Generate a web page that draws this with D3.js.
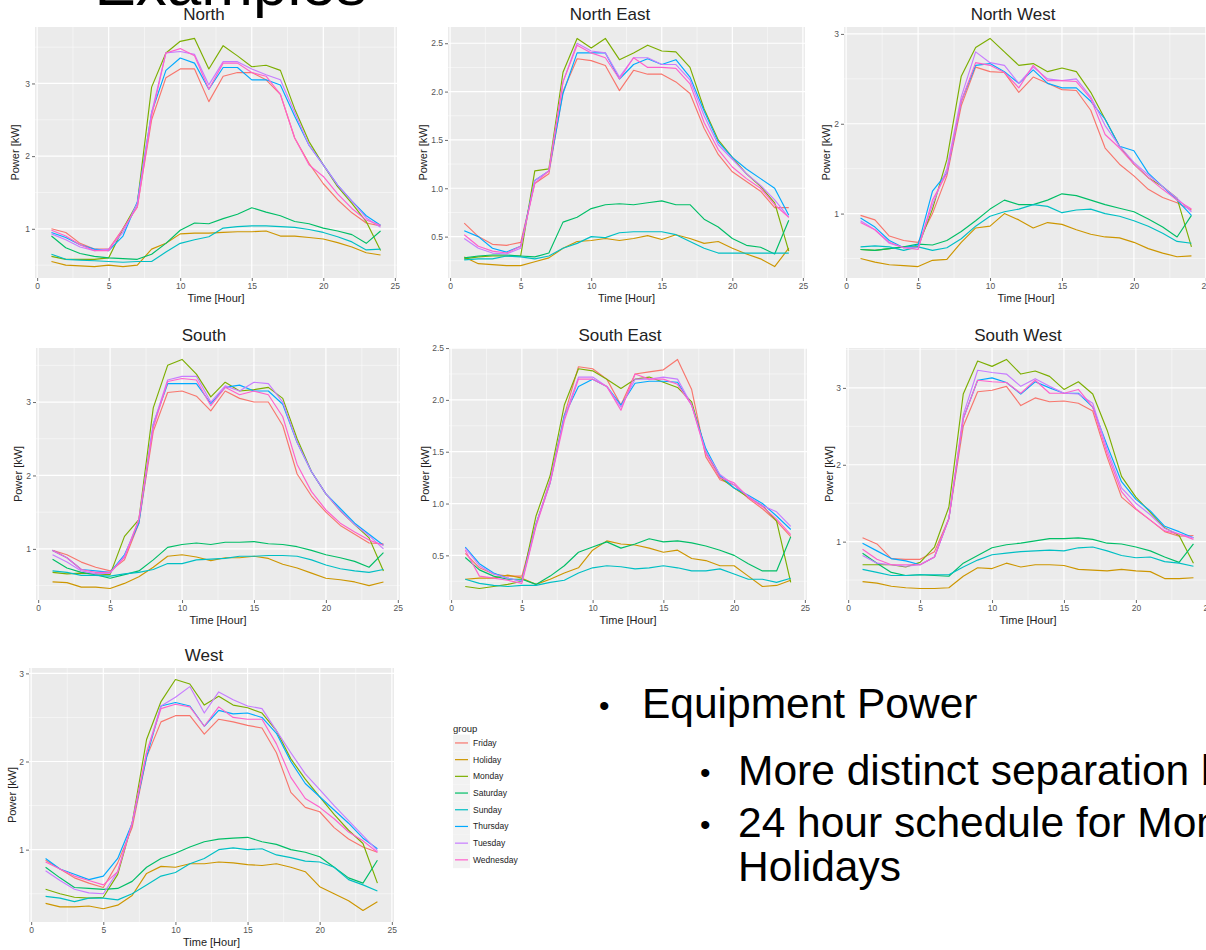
<!DOCTYPE html>
<html><head><meta charset="utf-8">
<script src="https://cdn.jsdelivr.net/npm/d3@7"></script>
<style>
body{margin:0;background:#fff;}
svg{display:block;font-family:"Liberation Sans",Arial,Helvetica,sans-serif;}
</style>
</head><body>
<svg id="c" width="1206" height="950"></svg>
<script>
// ---------------- DATA ----------------
const hours = [1,2,3,4,5,6,7,8,9,10,11,12,13,14,15,16,17,18,19,20,21,22,23,24];
const groups = ["Friday","Holiday","Monday","Saturday","Sunday","Thursday","Tuesday","Wednesday"];
const groupColors = ["#F8766D","#CD9600","#7CAE00","#00BE67","#00BFC4","#00A9FF","#C77CFF","#FF61CC"];
const facetNames = ["North","North East","North West","South","South East","South West","West"];
const xTicks = [0,5,10,15,20,25];
const yTicksNorth = [1,2,3];
const yTicksNorthEast = [0.5,1.0,1.5,2.0,2.5];
const yTicksNorthWest = [1,2,3];
const yTicksSouth = [1,2,3];
const yTicksSouthEast = [0.5,1.0,1.5,2.0,2.5];
const yTicksSouthWest = [1,2,3];
const yTicksWest = [1,2,3];

// each facet: series in the order of `groups`
const north = [
 [1.0,0.95,0.8,0.72,0.72,1.0,1.3,2.5,3.08,3.2,3.2,2.75,3.1,3.15,3.15,3.05,2.85,2.25,1.9,1.62,1.4,1.22,1.08,1.04],
 [0.55,0.5,0.49,0.48,0.5,0.48,0.5,0.72,0.8,0.93,0.94,0.94,0.95,0.96,0.96,0.97,0.9,0.9,0.88,0.86,0.81,0.75,0.67,0.64],
 [0.62,0.58,0.58,0.58,0.6,1.0,1.35,2.95,3.42,3.58,3.62,3.2,3.52,3.38,3.23,3.25,3.18,2.65,2.2,1.88,1.58,1.35,1.1,0.7],
 [0.9,0.74,0.66,0.62,0.6,0.59,0.58,0.65,0.8,0.98,1.08,1.07,1.14,1.2,1.29,1.23,1.18,1.1,1.07,1.01,0.97,0.92,0.8,0.97],
 [0.65,0.58,0.57,0.56,0.55,0.54,0.55,0.55,0.68,0.8,0.85,0.89,1.01,1.03,1.04,1.04,1.03,1.02,0.99,0.95,0.89,0.82,0.71,0.72],
 [0.95,0.88,0.78,0.72,0.7,0.9,1.37,2.6,3.18,3.35,3.28,2.92,3.22,3.22,3.05,3.05,2.98,2.55,2.15,1.88,1.6,1.38,1.18,1.05],
 [0.93,0.85,0.75,0.7,0.72,0.95,1.35,2.6,3.42,3.44,3.4,2.98,3.3,3.3,3.2,3.12,3.05,2.6,2.15,1.88,1.6,1.38,1.15,1.02],
 [0.98,0.9,0.78,0.7,0.7,1.0,1.3,2.55,3.42,3.48,3.38,2.92,3.28,3.28,3.15,3.1,2.85,2.25,1.88,1.72,1.48,1.28,1.12,1.05]
];
const northEast = [
 [0.64,0.5,0.42,0.41,0.44,1.05,1.15,2.0,2.34,2.32,2.27,2.01,2.22,2.18,2.18,2.1,1.98,1.62,1.35,1.17,1.07,0.97,0.8,0.8],
 [0.29,0.22,0.21,0.2,0.2,0.24,0.28,0.38,0.45,0.46,0.48,0.46,0.48,0.51,0.47,0.52,0.48,0.43,0.45,0.38,0.32,0.27,0.19,0.38],
 [0.27,0.29,0.3,0.3,0.3,1.18,1.2,2.2,2.55,2.45,2.55,2.33,2.4,2.48,2.42,2.41,2.25,1.82,1.5,1.32,1.15,1.02,0.85,0.35],
 [0.28,0.3,0.31,0.31,0.3,0.29,0.33,0.65,0.7,0.79,0.83,0.84,0.83,0.85,0.87,0.83,0.83,0.68,0.6,0.48,0.41,0.39,0.32,0.67],
 [0.26,0.27,0.27,0.3,0.29,0.27,0.3,0.38,0.43,0.5,0.49,0.54,0.55,0.55,0.55,0.52,0.45,0.38,0.33,0.33,0.33,0.33,0.33,0.33],
 [0.56,0.5,0.38,0.34,0.4,1.08,1.18,1.98,2.4,2.4,2.4,2.13,2.28,2.34,2.28,2.33,2.15,1.8,1.48,1.32,1.2,1.1,1.0,0.72],
 [0.48,0.38,0.33,0.32,0.38,1.08,1.18,2.1,2.5,2.42,2.4,2.15,2.35,2.35,2.28,2.28,2.12,1.75,1.45,1.3,1.15,1.03,0.88,0.7],
 [0.52,0.4,0.35,0.33,0.4,1.05,1.18,2.1,2.48,2.4,2.35,2.13,2.35,2.25,2.25,2.24,2.08,1.68,1.4,1.22,1.1,1.0,0.83,0.7]
];
const northWest = [
 [0.98,0.93,0.75,0.7,0.68,1.0,1.42,2.2,2.63,2.58,2.57,2.35,2.52,2.45,2.38,2.37,2.15,1.73,1.55,1.42,1.27,1.18,1.12,1.04],
 [0.5,0.46,0.43,0.42,0.41,0.48,0.49,0.68,0.84,0.86,1.0,0.93,0.84,0.9,0.88,0.82,0.77,0.74,0.73,0.68,0.61,0.56,0.52,0.53],
 [0.6,0.59,0.61,0.63,0.63,1.05,1.6,2.53,2.85,2.95,2.8,2.65,2.67,2.58,2.62,2.58,2.35,2.05,1.75,1.55,1.4,1.3,1.17,0.63],
 [0.6,0.59,0.61,0.63,0.66,0.65,0.7,0.8,0.92,1.05,1.15,1.1,1.1,1.15,1.22,1.2,1.15,1.1,1.06,1.02,0.94,0.85,0.74,0.98],
 [0.63,0.64,0.63,0.59,0.63,0.59,0.62,0.72,0.86,0.97,1.02,1.05,1.1,1.08,1.01,1.04,1.05,1.0,0.97,0.92,0.86,0.78,0.69,0.67],
 [0.95,0.85,0.7,0.62,0.65,1.25,1.45,2.25,2.65,2.67,2.58,2.45,2.6,2.45,2.4,2.4,2.25,2.05,1.75,1.7,1.45,1.3,1.15,0.98],
 [0.92,0.82,0.67,0.62,0.62,1.1,1.5,2.3,2.8,2.68,2.65,2.45,2.63,2.5,2.48,2.5,2.3,1.98,1.75,1.57,1.43,1.3,1.17,1.02],
 [0.9,0.82,0.68,0.62,0.6,1.15,1.45,2.25,2.68,2.65,2.57,2.4,2.65,2.48,2.48,2.47,2.28,1.88,1.73,1.55,1.4,1.27,1.15,1.05]
];
const south = [
 [0.98,0.92,0.82,0.75,0.7,0.85,1.35,2.6,3.13,3.15,3.08,2.88,3.15,3.05,3.0,3.0,2.68,2.02,1.72,1.5,1.32,1.2,1.08,1.07],
 [0.55,0.54,0.48,0.48,0.46,0.53,0.62,0.75,0.9,0.92,0.89,0.84,0.88,0.88,0.9,0.87,0.79,0.74,0.67,0.6,0.58,0.55,0.5,0.55],
 [0.68,0.66,0.67,0.66,0.65,1.17,1.4,2.92,3.5,3.58,3.38,3.07,3.27,3.15,3.17,3.2,3.05,2.5,2.05,1.75,1.52,1.33,1.15,0.7],
 [0.86,0.74,0.68,0.65,0.6,0.65,0.7,0.85,1.02,1.06,1.08,1.06,1.09,1.09,1.1,1.07,1.06,1.03,0.98,0.92,0.88,0.83,0.75,0.95],
 [0.7,0.68,0.64,0.64,0.63,0.66,0.68,0.72,0.8,0.8,0.85,0.86,0.87,0.9,0.9,0.91,0.91,0.9,0.85,0.78,0.73,0.7,0.68,0.72],
 [0.98,0.88,0.72,0.7,0.68,0.92,1.35,2.7,3.25,3.25,3.25,2.98,3.2,3.23,3.15,3.15,2.97,2.45,2.05,1.75,1.55,1.35,1.2,1.05],
 [0.92,0.82,0.7,0.66,0.67,0.9,1.4,2.7,3.3,3.35,3.35,3.0,3.22,3.15,3.27,3.25,3.0,2.45,2.05,1.75,1.52,1.33,1.18,1.0],
 [0.98,0.88,0.72,0.68,0.68,0.88,1.4,2.65,3.28,3.32,3.3,2.95,3.2,3.1,3.15,3.1,2.8,2.15,1.78,1.53,1.35,1.23,1.12,1.05]
];
const southEast = [
 [0.52,0.38,0.32,0.3,0.3,0.8,1.22,1.85,2.32,2.3,2.2,1.95,2.25,2.27,2.29,2.39,2.1,1.45,1.23,1.18,1.05,0.95,0.83,0.68],
 [0.27,0.28,0.28,0.31,0.28,0.22,0.27,0.33,0.38,0.55,0.64,0.61,0.6,0.57,0.53,0.55,0.47,0.45,0.4,0.4,0.3,0.2,0.21,0.26],
 [0.2,0.18,0.2,0.22,0.25,0.88,1.27,1.95,2.3,2.28,2.2,2.11,2.2,2.22,2.17,2.12,1.98,1.5,1.25,1.15,1.06,0.98,0.83,0.24],
 [0.48,0.36,0.3,0.27,0.27,0.22,0.3,0.4,0.53,0.58,0.63,0.57,0.61,0.66,0.63,0.64,0.62,0.59,0.55,0.5,0.42,0.35,0.35,0.68],
 [0.27,0.23,0.21,0.2,0.21,0.21,0.24,0.26,0.33,0.38,0.4,0.39,0.37,0.38,0.4,0.38,0.35,0.35,0.37,0.32,0.27,0.27,0.24,0.28],
 [0.58,0.42,0.33,0.28,0.25,0.8,1.2,1.85,2.13,2.2,2.13,1.95,2.16,2.18,2.18,2.17,1.95,1.53,1.27,1.15,1.08,1.0,0.88,0.75],
 [0.57,0.4,0.32,0.28,0.25,0.8,1.22,1.83,2.22,2.22,2.13,1.93,2.2,2.2,2.22,2.2,1.95,1.5,1.28,1.18,1.07,0.98,0.92,0.78],
 [0.55,0.3,0.28,0.26,0.23,0.78,1.2,1.8,2.2,2.2,2.13,1.9,2.25,2.2,2.2,2.15,1.95,1.48,1.25,1.2,1.06,0.97,0.85,0.7]
];
const southWest = [
 [1.05,0.97,0.78,0.77,0.77,0.87,1.3,2.5,2.95,2.97,3.02,2.77,2.87,2.82,2.83,2.8,2.7,2.1,1.58,1.42,1.28,1.13,1.07,1.08],
 [0.48,0.46,0.42,0.4,0.39,0.39,0.4,0.55,0.66,0.65,0.72,0.67,0.7,0.7,0.69,0.64,0.63,0.62,0.64,0.62,0.61,0.52,0.52,0.53],
 [0.7,0.7,0.7,0.67,0.73,0.93,1.45,2.92,3.35,3.28,3.37,3.18,3.22,3.15,2.98,3.08,2.92,2.45,1.85,1.58,1.38,1.18,1.08,0.72],
 [0.85,0.72,0.6,0.56,0.57,0.56,0.55,0.72,0.82,0.92,0.96,0.98,1.01,1.04,1.04,1.05,1.03,0.98,0.97,0.93,0.88,0.8,0.73,0.97],
 [0.64,0.6,0.56,0.56,0.57,0.57,0.57,0.67,0.76,0.83,0.85,0.87,0.88,0.89,0.88,0.92,0.93,0.88,0.82,0.79,0.8,0.74,0.72,0.68],
 [0.98,0.88,0.78,0.75,0.7,0.8,1.3,2.6,3.1,3.13,3.07,2.92,3.08,3.0,2.93,2.93,2.75,2.25,1.78,1.55,1.4,1.2,1.13,1.05],
 [0.82,0.72,0.7,0.68,0.7,0.8,1.3,2.65,3.23,3.2,3.18,3.02,3.12,3.02,2.93,2.92,2.8,2.2,1.7,1.5,1.35,1.17,1.1,1.05],
 [0.9,0.77,0.7,0.7,0.7,0.8,1.3,2.6,3.1,3.08,3.07,2.93,3.1,2.93,2.93,2.98,2.75,2.15,1.65,1.43,1.28,1.14,1.1,1.03]
];
const west = [
 [0.88,0.78,0.68,0.62,0.57,0.85,1.25,2.05,2.45,2.52,2.52,2.31,2.48,2.45,2.41,2.38,2.1,1.65,1.48,1.43,1.25,1.12,1.03,0.97],
 [0.39,0.35,0.35,0.36,0.33,0.37,0.48,0.73,0.81,0.8,0.84,0.84,0.86,0.85,0.83,0.82,0.84,0.8,0.75,0.58,0.5,0.42,0.31,0.41],
 [0.55,0.5,0.46,0.45,0.46,0.72,1.3,2.25,2.68,2.93,2.88,2.64,2.74,2.64,2.61,2.55,2.35,2.03,1.8,1.6,1.4,1.22,1.07,0.62],
 [0.8,0.68,0.57,0.56,0.55,0.56,0.64,0.8,0.9,0.96,1.03,1.09,1.12,1.13,1.14,1.09,1.06,1.0,0.97,0.92,0.8,0.68,0.62,0.88],
 [0.47,0.45,0.41,0.45,0.45,0.43,0.5,0.6,0.7,0.74,0.84,0.9,1.0,1.02,1.0,1.01,0.94,0.91,0.87,0.86,0.8,0.66,0.6,0.53],
 [0.9,0.78,0.72,0.66,0.7,0.9,1.3,2.05,2.63,2.67,2.63,2.4,2.58,2.54,2.55,2.5,2.32,2.0,1.75,1.6,1.45,1.3,1.13,1.01],
 [0.76,0.65,0.55,0.51,0.5,0.75,1.3,2.1,2.63,2.73,2.85,2.55,2.79,2.7,2.63,2.6,2.35,2.1,1.86,1.68,1.5,1.33,1.16,0.99],
 [0.86,0.78,0.7,0.65,0.6,0.75,1.3,2.1,2.6,2.65,2.62,2.4,2.62,2.5,2.48,2.48,2.2,1.82,1.58,1.48,1.35,1.2,1.1,0.97]
];
const facetData = [north, northEast, northWest, south, southEast, southWest, west];
const facetYTicks = [yTicksNorth, yTicksNorthEast, yTicksNorthWest, yTicksSouth, yTicksSouthEast, yTicksSouthWest, yTicksWest];

const xTitle = "Time [Hour]";
const yTitle = "Power [kW]";
const legendTitle = "group";
const slideTitle = "Examples";
const bullets = [
  {level:1, text:"Equipment Power"},
  {level:2, text:"More distinct separation between weekdays and weekends"},
  {level:2, text:"24 hour schedule for Mondays and"},
  {level:0, text:"Holidays"}
];

// ---------------- LAYOUT ----------------
const layout = [
  {x0:35,  x1:397,  y0:27,  y1:278, tx:204,  yx:15},
  {x0:448, x1:805,  y0:27,  y1:278, tx:610,  yx:423},
  {x0:844, x1:1208, y0:27,  y1:278, tx:1013, yx:826},
  {x0:36,  x1:400,  y0:348, y1:600, tx:204,  yx:18},
  {x0:449, x1:807,  y0:348, y1:600, tx:620,  yx:425},
  {x0:846, x1:1210, y0:348, y1:600, tx:1018, yx:829},
  {x0:29,  x1:394,  y0:668, y1:922, tx:204,  yx:12}
];

const svg = d3.select("#c");
svg.append("rect").attr("width",1206).attr("height",950).attr("fill","#fff");

function expand(ext){ const d = (ext[1]-ext[0])*0.05; return [ext[0]-d, ext[1]+d]; }

facetNames.forEach((name, fi) => {
  const L = layout[fi];
  const series = facetData[fi];
  const yt = facetYTicks[fi];
  const x = d3.scaleLinear().domain(expand(d3.extent(hours))).range([L.x0, L.x1]);
  const yExt = d3.extent(series.flat());
  const y = d3.scaleLinear().domain(expand(yExt)).range([L.y1, L.y0]);
  const g = svg.append("g");
  g.append("rect").attr("x",L.x0).attr("y",L.y0).attr("width",L.x1-L.x0).attr("height",L.y1-L.y0).attr("fill","#EBEBEB");

  // minor grid
  const xs = xTicks[1]-xTicks[0];
  const xMinor = d3.range(xTicks[0]-xs/2, xTicks[xTicks.length-1]+xs, xs).filter(v => v>=x.domain()[0] && v<=x.domain()[1]);
  const ys = yt[1]-yt[0];
  const yMinor = d3.range(yt[0]-ys/2, yt[yt.length-1]+ys, ys).filter(v => v>=y.domain()[0] && v<=y.domain()[1]);
  g.selectAll(null).data(xMinor).enter().append("line")
    .attr("x1",d=>x(d)).attr("x2",d=>x(d)).attr("y1",L.y0).attr("y2",L.y1)
    .attr("stroke","#fff").attr("stroke-width",0.6).attr("stroke-opacity",0.8);
  g.selectAll(null).data(yMinor).enter().append("line")
    .attr("y1",d=>y(d)).attr("y2",d=>y(d)).attr("x1",L.x0).attr("x2",L.x1)
    .attr("stroke","#fff").attr("stroke-width",0.6).attr("stroke-opacity",0.8);
  // major grid
  const xMaj = xTicks.filter(v => v>=x.domain()[0] && v<=x.domain()[1]);
  g.selectAll(null).data(xMaj).enter().append("line")
    .attr("x1",d=>x(d)).attr("x2",d=>x(d)).attr("y1",L.y0).attr("y2",L.y1)
    .attr("stroke","#fff").attr("stroke-width",1.2);
  g.selectAll(null).data(yt).enter().append("line")
    .attr("y1",d=>y(d)).attr("y2",d=>y(d)).attr("x1",L.x0).attr("x2",L.x1)
    .attr("stroke","#fff").attr("stroke-width",1.2);

  // lines
  const line = d3.line().x((d,i)=>x(hours[i])).y(d=>y(d));
  series.forEach((s, gi) => {
    g.append("path").datum(s).attr("d", line).attr("fill","none")
      .attr("stroke", groupColors[gi]).attr("stroke-width",1.15)
      .attr("stroke-linejoin","round");
  });

  // axes
  const fmt = ys < 1 ? d3.format(".1f") : d3.format("d");
  const ax = g.append("g").attr("transform",`translate(${L.x0},0)`)
    .call(d3.axisLeft(y).tickValues(yt).tickFormat(fmt).tickSize(3).tickPadding(2));
  const bx = g.append("g").attr("transform",`translate(0,${L.y1})`)
    .call(d3.axisBottom(x).tickValues(xTicks).tickFormat(d3.format("d")).tickSize(3).tickPadding(2));
  [ax,bx].forEach(a => {
    a.select(".domain").remove();
    a.selectAll(".tick line").attr("stroke","#444").attr("stroke-width",0.8);
    a.selectAll(".tick text").attr("fill","#555").attr("font-size",8.5)
      .attr("font-family",'"Liberation Sans",Arial,sans-serif');
  });

  // titles
  g.append("text").attr("x",L.tx).attr("y",L.y0-7).attr("text-anchor","middle")
    .attr("font-size",17).attr("fill","#222").text(name);
  g.append("text").attr("x",(L.x0+L.x1)/2).attr("y",L.y1+24).attr("text-anchor","middle")
    .attr("font-size",11).attr("fill","#222").text(xTitle);
  g.append("text").attr("transform",`translate(${L.yx},${(L.y0+L.y1)/2}) rotate(-90)`)
    .attr("text-anchor","middle").attr("dy","0.35em")
    .attr("font-size",11).attr("fill","#222").text(yTitle);
});

// legend
const lg = svg.append("g");
lg.append("text").attr("x",453).attr("y",732).attr("font-size",9.5).attr("fill","#222").text(legendTitle);
const keyH = 16.7, keyTop = 734.6;
groups.forEach((gname, i) => {
  const cy = keyTop + keyH*i + keyH/2;
  lg.append("rect").attr("x",453).attr("y",cy-keyH/2).attr("width",17).attr("height",keyH).attr("fill","#F2F2F2");
  lg.append("line").attr("x1",455).attr("x2",468).attr("y1",cy).attr("y2",cy)
    .attr("stroke",groupColors[i]).attr("stroke-width",1.2);
  lg.append("text").attr("x",473).attr("y",cy).attr("dy","0.35em").attr("font-size",8.5)
    .attr("fill","#222").text(gname);
});

// bullet text
const bt = svg.append("g").attr("font-family",'"Liberation Sans",Arial,sans-serif').attr("fill","#000");
const bulletY = [718, 785, 837, 881];
bullets.forEach((b, i) => {
  const tx = b.level===1 ? 642 : 738;
  const fs = 42.5;
  if (b.level===1) bt.append("text").attr("x",599).attr("y",bulletY[i]-2).attr("font-size",30).text("•");
  if (b.level===2) bt.append("text").attr("x",700).attr("y",bulletY[i]-2).attr("font-size",30).text("•");
  bt.append("text").attr("x",tx).attr("y",bulletY[i]).attr("font-size",fs).text(b.text);
});

// cut-off slide title at the very top (only the bottom of the glyphs is on the page)
const st = svg.append("text").attr("y",5).attr("font-size",62).attr("fill","#000").text(slideTitle);
const wExam = st.node().getSubStringLength(0,4);
st.attr("x", 253 - wExam);
</script>
</body></html>
